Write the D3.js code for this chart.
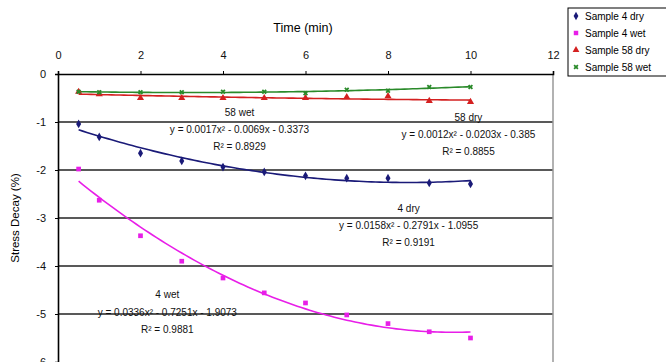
<!DOCTYPE html>
<html>
<head>
<meta charset="utf-8">
<script src="https://cdn.jsdelivr.net/npm/d3@7"></script>
<style>
  body { margin: 0; background: #fff; }
  svg { display: block; font-family: "Liberation Sans", Arial, sans-serif; }
  .axis text { font-size: 11px; fill: #111; }
  .axis path, .axis line { stroke: #000; }
  .note { font-size: 10px; fill: #111; }
</style>
</head>
<body>
<div id="chart"></div>
<script>
// time (min)
const times = [0.5, 1, 2, 3, 4, 5, 6, 7, 8, 9, 10];
// stress decay (%) per sample
const dry4 = [-1.04, -1.31, -1.65, -1.81, -1.94, -2.04, -2.12, -2.17, -2.17, -2.27, -2.29];
const wet4 = [-1.98, -2.63, -3.37, -3.9, -4.25, -4.56, -4.77, -5.02, -5.2, -5.37, -5.5];
const dry58 = [-0.37, -0.42, -0.5, -0.5, -0.5, -0.5, -0.5, -0.48, -0.46, -0.56, -0.58];
const wet58 = [-0.37, -0.38, -0.38, -0.38, -0.37, -0.37, -0.4, -0.33, -0.35, -0.27, -0.27];

const seriesNames = ['Sample 4 dry', 'Sample 4 wet', 'Sample 58 dry', 'Sample 58 wet'];
const noteTitles = ['4 dry', '4 wet', '58 dry', '58 wet'];
const noteEquations = [
  'y = 0.0158x² - 0.2791x - 1.0955',
  'y = 0.0336x² - 0.7251x - 1.9073',
  'y = 0.0012x² - 0.0203x - 0.385',
  'y = 0.0017x² - 0.0069x - 0.3373'
];
const noteR2 = ['R² = 0.9191', 'R² = 0.9881', 'R² = 0.8855', 'R² = 0.8929'];

const xTicks = [0, 2, 4, 6, 8, 10, 12];
const yTicks = [0, -1, -2, -3, -4, -5, -6];

const width = 666, height = 362;
const colors = ['#1a1a78', '#e81ee8', '#d42020', '#2a8a2a'];
const symbols = [d3.symbolDiamond, d3.symbolSquare, d3.symbolTriangle, d3.symbolCross];
// where the equation boxes sit (data units, centre of title line)
const notePos = [[8.5, -2.8], [2.65, -4.6], [9.95, -0.9], [4.4, -0.8]];

const svg = d3.select('#chart').append('svg').attr('width', width).attr('height', height);

const x = d3.scaleLinear().domain([0, 12]).range([58, 553]);
const y = d3.scaleLinear().domain([0, -6]).range([74, 362]);

// gridlines
svg.append('g')
  .selectAll('line')
  .data(yTicks.slice(1, 6))
  .enter()
  .append('line')
  .attr('x1', x(0)).attr('x2', x(12))
  .attr('y1', d => y(d)).attr('y2', d => y(d))
  .attr('stroke', '#222').attr('stroke-width', 1.6);

// right frame
svg.append('line')
  .attr('x1', x(12)).attr('x2', x(12))
  .attr('y1', y(0)).attr('y2', y(-6))
  .attr('stroke', '#999').attr('stroke-width', 1.5);

// axes (plain hyphen for minus, as in the original)
const xAxis = d3.axisTop(x).tickValues(xTicks).tickSize(3).tickPadding(12).tickFormat(d => String(d));
svg.append('g').attr('class', 'axis x')
  .attr('transform', 'translate(0,' + y(0) + ')')
  .call(xAxis)
  .call(g => g.select('.domain').attr('stroke-width', 1.6));

const yAxis = d3.axisLeft(y).tickValues(yTicks).tickSize(3).tickPadding(9).tickFormat(d => String(d));
svg.append('g').attr('class', 'axis y')
  .attr('transform', 'translate(' + x(0) + ',0)')
  .call(yAxis)
  .call(g => g.select('.domain').attr('stroke-width', 1.6));

svg.append('text')
  .attr('x', 303).attr('y', 32)
  .attr('text-anchor', 'middle')
  .attr('font-size', 12.5)
  .text('Time (min)');

svg.append('text')
  .attr('transform', 'translate(19,218) rotate(-90)')
  .attr('text-anchor', 'middle')
  .attr('font-size', 11.5)
  .text('Stress Decay (%)');

// quadratic least-squares fit, like the spreadsheet trendline
function polyFit(xs, ys) {
  let s = [0, 0, 0, 0, 0], t = [0, 0, 0];
  xs.forEach((xi, i) => {
    for (let k = 0; k < 5; k++) s[k] += Math.pow(xi, k);
    for (let k = 0; k < 3; k++) t[k] += ys[i] * Math.pow(xi, k);
  });
  const m = [[s[0], s[1], s[2], t[0]], [s[1], s[2], s[3], t[1]], [s[2], s[3], s[4], t[2]]];
  for (let i = 0; i < 3; i++) {
    for (let j = i + 1; j < 3; j++) {
      const f = m[j][i] / m[i][i];
      for (let k = i; k < 4; k++) m[j][k] -= f * m[i][k];
    }
  }
  const c = [0, 0, 0];
  for (let i = 2; i >= 0; i--) {
    let v = m[i][3];
    for (let k = i + 1; k < 3; k++) v -= m[i][k] * c[k];
    c[i] = v / m[i][i];
  }
  return xv => c[0] + c[1] * xv + c[2] * xv * xv;
}

const allSeries = [dry4, wet4, dry58, wet58];
const line = d3.line().x(d => x(d[0])).y(d => y(d[1]));
const xsFine = d3.range(times[0], times[times.length - 1] + 0.001, 0.1);

allSeries.forEach((vals, i) => {
  const f = polyFit(times, vals);
  svg.append('path')
    .datum(xsFine.map(t => [t, f(t)]))
    .attr('d', line)
    .attr('fill', 'none')
    .attr('stroke', colors[i])
    .attr('stroke-width', 1.6);
});

allSeries.forEach((vals, i) => {
  svg.append('g')
    .selectAll('path')
    .data(vals)
    .enter()
    .append('path')
    .attr('transform', (d, j) => 'translate(' + x(times[j]) + ',' + y(d) + ')' + (i === 3 ? ' rotate(45)' : ''))
    .attr('d', d3.symbol().type(symbols[i]).size(i === 3 ? 16 : 22))
    .attr('fill', colors[i]);
});

// equation notes
noteTitles.forEach((t, i) => {
  const cx = x(notePos[i][0]), cy = y(notePos[i][1]);
  const g = svg.append('g').attr('text-anchor', 'middle');
  g.append('text').attr('class', 'note').attr('x', cx).attr('y', cy + 3.5).text(t);
  g.append('text').attr('class', 'note').attr('x', cx).attr('y', cy + 21).text(noteEquations[i]);
  g.append('text').attr('class', 'note').attr('x', cx).attr('y', cy + 38).text(noteR2[i]);
});

// legend
const legend = svg.append('g').attr('transform', 'translate(568,8)');
legend.append('rect')
  .attr('width', 110).attr('height', 68)
  .attr('fill', '#fff').attr('stroke', '#000');
seriesNames.forEach((name, i) => {
  const ly = 8 + i * 17;
  legend.append('path')
    .attr('transform', 'translate(8,' + ly + ')' + (i === 3 ? ' rotate(45)' : ''))
    .attr('d', d3.symbol().type(symbols[i]).size(i === 3 ? 16 : 20))
    .attr('fill', colors[i]);
  legend.append('text')
    .attr('x', 17).attr('y', ly + 3.5)
    .attr('font-size', 10)
    .text(name);
});
</script>
</body>
</html>
